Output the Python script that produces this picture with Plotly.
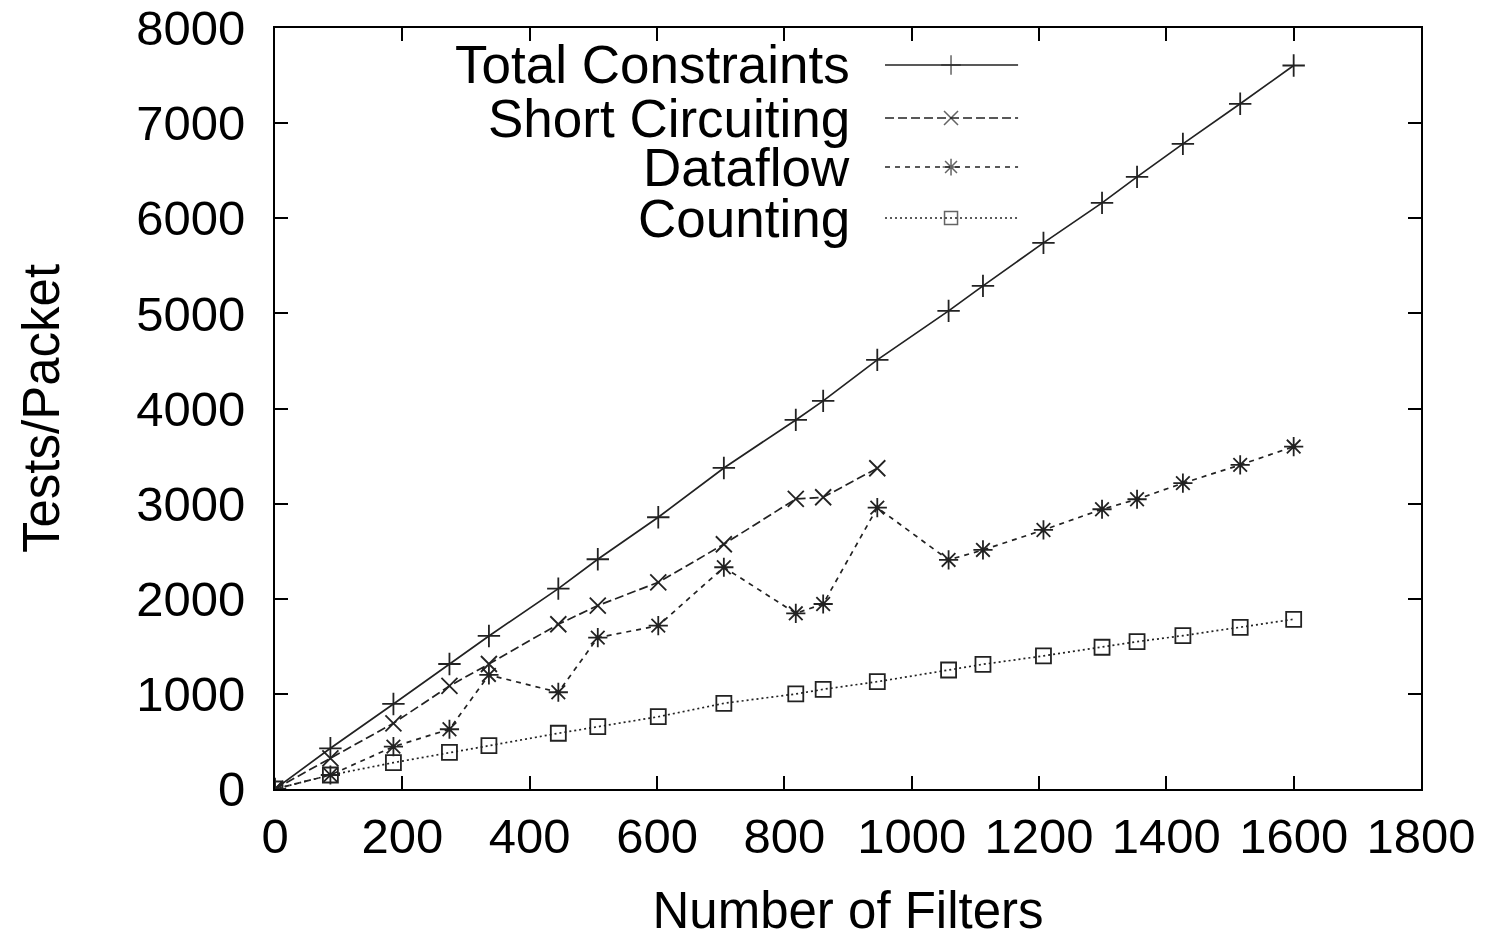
import plotly.graph_objects as go

# ---- data ----
filters = [0, 87, 186, 274, 336, 445, 507, 602, 705, 818, 861, 946,
           1058, 1112, 1207, 1299, 1354, 1426, 1516, 1600]
total_constraints = [0, 428, 894, 1314, 1609, 2106, 2415, 2857, 3375, 3880, 4080, 4511,
                     5026, 5289, 5741, 6162, 6435, 6782, 7203, 7606]
short_filters = [0, 87, 186, 274, 336, 445, 507, 602, 705, 818, 861, 946]
short_circuiting = [0, 323, 691, 1083, 1314, 1732, 1928, 2173, 2573, 3049, 3067, 3372]
dataflow = [0, 147, 445, 628, 1199, 1017, 1591, 1717, 2331, 1847, 1945, 2958,
            2408, 2513, 2723, 2941, 3046, 3215, 3407, 3600]
counting = [0, 147, 277, 386, 455, 586, 655, 760, 901, 999, 1048, 1128,
            1251, 1311, 1399, 1490, 1549, 1612, 1700, 1784]

series_names = ["Total Constraints", "Short Circuiting", "Dataflow", "Counting"]
x_ticks = [0, 200, 400, 600, 800, 1000, 1200, 1400, 1600, 1800]
y_ticks = [0, 1000, 2000, 3000, 4000, 5000, 6000, 7000, 8000]

FONT = "Liberation Sans, Arial, Helvetica, sans-serif"
LC = "#222222"

styles = [
    dict(dash="solid", symbol="cross-thin-open", size=16),
    dict(dash="9px,4px", symbol="x-thin-open", size=16),
    dict(dash="5px,5px", symbol="asterisk-open", size=16),
    dict(dash="2px,3px", symbol="square-open", size=15),
]
xs = [filters, short_filters, filters, filters]
ys = [total_constraints, short_circuiting, dataflow, counting]

fig = go.Figure()
for name, x, y, st in zip(series_names, xs, ys, styles):
    fig.add_trace(go.Scatter(
        x=x, y=y, name=name, mode="lines+markers",
        line=dict(color=LC, width=1.7, dash=st["dash"]),
        marker=dict(symbol=st["symbol"], size=st["size"], color=LC,
                    line=dict(color=LC, width=1.8)),
        showlegend=False,
    ))

# ---- manual legend (text on the left, sample on the right) ----
leg_rows = [0.9514, 0.8817, 0.8173, 0.7503]
x_text = 0.5035
x_l0, x_mid, x_l1 = 0.5323, 0.5899, 0.6484
for name, st, ry in zip(series_names, styles, leg_rows):
    fig.add_trace(go.Scatter(
        x=[x_l0, x_mid, x_l1], y=[ry, ry, ry], xaxis="x2", yaxis="y2",
        mode="lines+markers", showlegend=False, hoverinfo="skip",
        line=dict(color=LC, width=1.5, dash=st["dash"]),
        marker=dict(symbol=st["symbol"], size=[0, st["size"] - 2, 0], color=LC,
                    line=dict(color=LC, width=1.5)),
    ))
    fig.add_annotation(x=x_text, y=ry, xref="paper", yref="paper",
                       text=name, showarrow=False, xanchor="right", yanchor="middle",
                       font=dict(family=FONT, size=53, color="black"))

axis_common = dict(
    showgrid=False, zeroline=False, showline=True, linecolor="black", linewidth=2,
    mirror="ticks", ticks="inside", ticklen=13, tickwidth=2, tickcolor="black",
    tickfont=dict(family=FONT, size=49, color="black"), automargin=False,
    ticklabeloverflow="allow",
)

# the page body adds an 8px offset, so the figure is 8px smaller and margins shifted
fig.update_layout(
    width=1487, height=931, autosize=False,
    margin=dict(l=267, r=74, t=20, b=150),
    paper_bgcolor="white", plot_bgcolor="white",
    font=dict(family=FONT, color="black"),
    xaxis=dict(range=[0, 1800], tickvals=x_ticks, ticktext=[str(v) for v in x_ticks],
               ticklabelstandoff=3,
               title=dict(text="Number of Filters", font=dict(family=FONT, size=51),
                          standoff=44),
               **axis_common),
    yaxis=dict(range=[0, 8000], tickvals=y_ticks, ticktext=[str(v) for v in y_ticks],
               ticklabelstandoff=18,
               title=dict(text="Tests/Packet", font=dict(family=FONT, size=51),
                          standoff=60),
               **axis_common),
    xaxis2=dict(range=[0, 1], overlaying="x", visible=False, fixedrange=True),
    yaxis2=dict(range=[0, 1], overlaying="y", visible=False, fixedrange=True),
)

fig.write_html("out.html")
